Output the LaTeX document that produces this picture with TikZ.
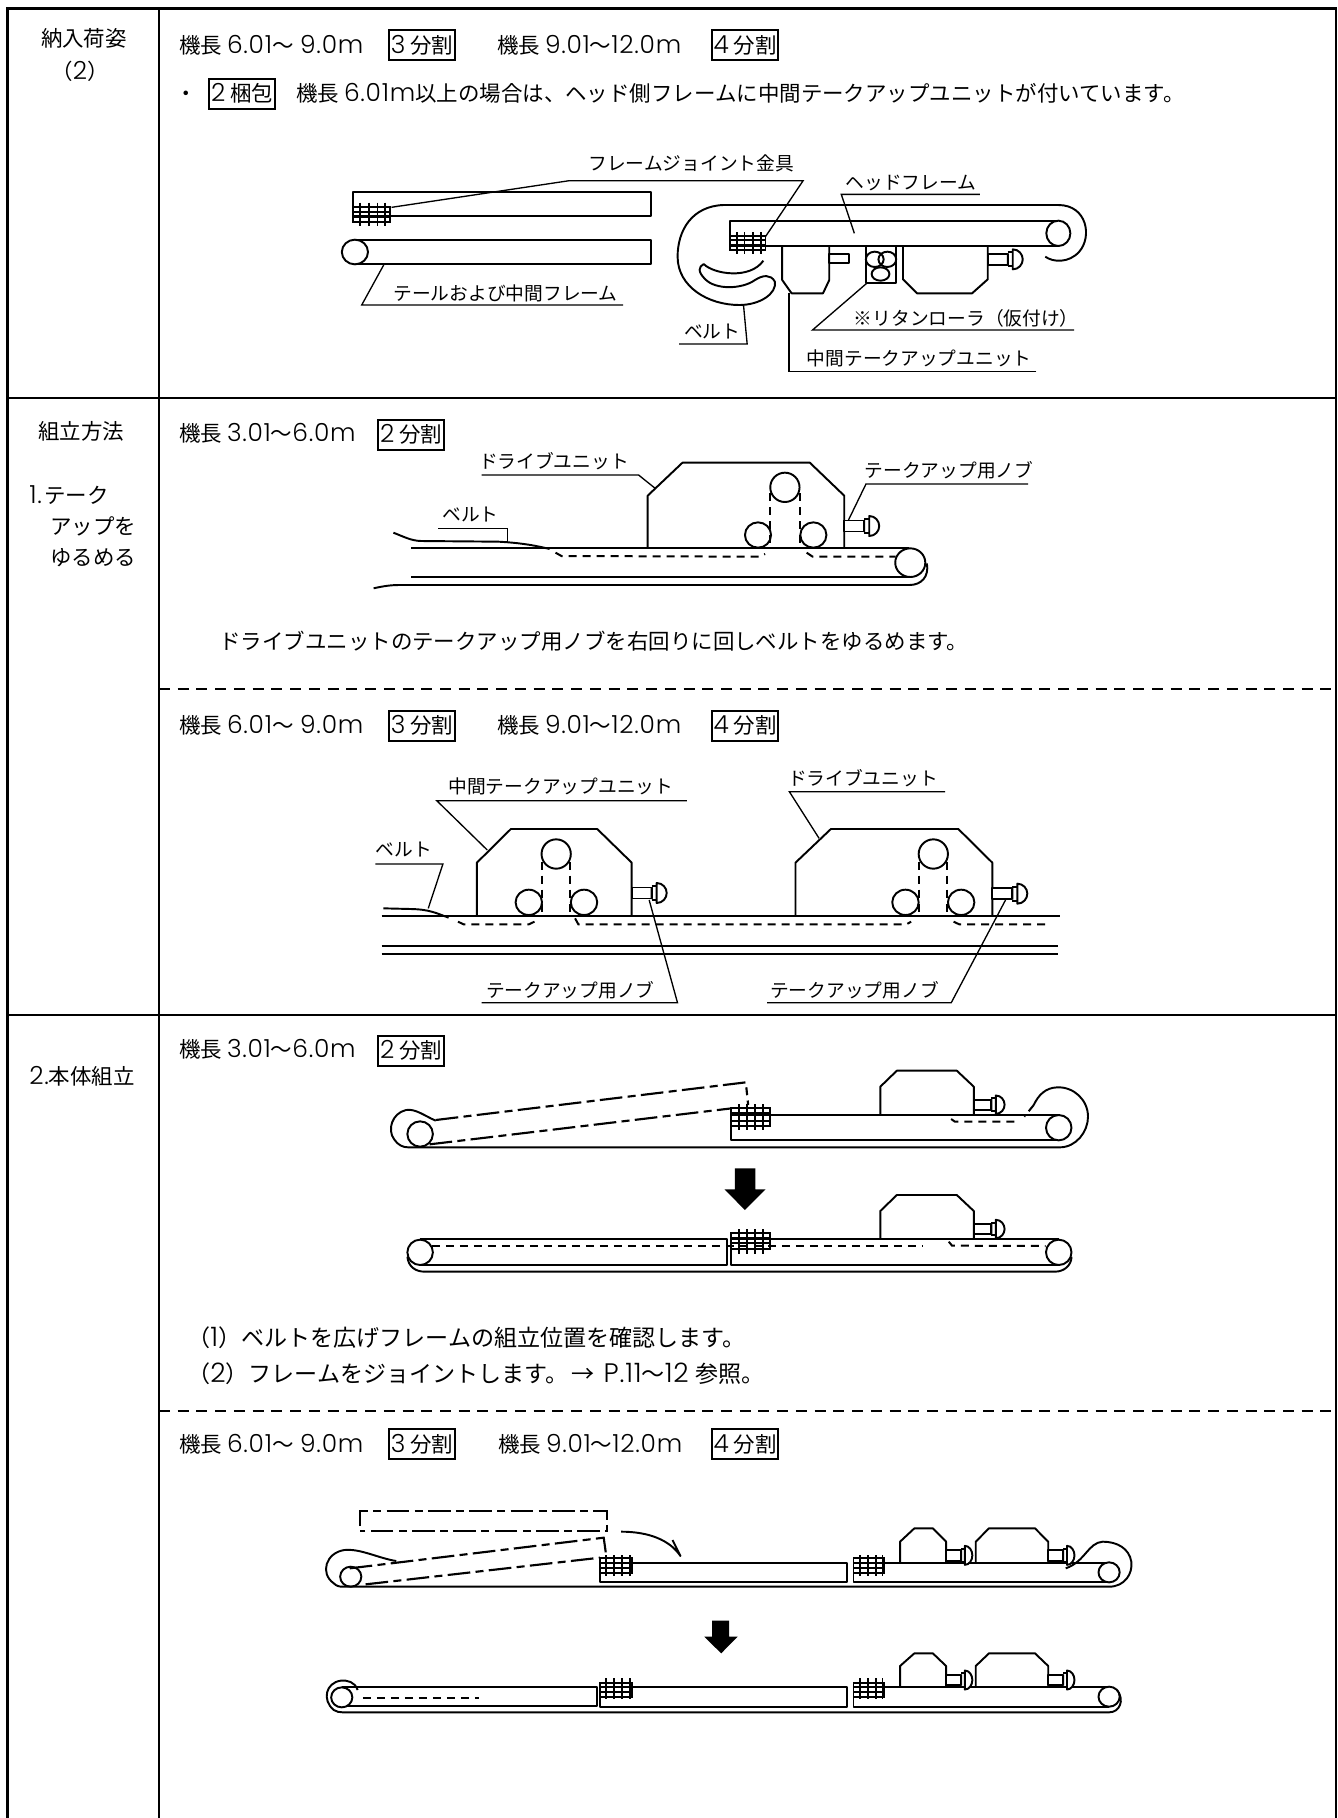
\documentclass[tikz,border=0pt]{standalone}
\usepackage{fontspec}
\setmainfont{Noto Sans CJK JP}
\newfontfamily\ltnf[UprightFont=* Light,Scale=1.16,LetterSpace=3]{Poppins}
\newcommand{\ltn}[1]{{\ltnf #1}}
\newcommand{\bodyfs}{\fontsize{16.1pt}{18pt}\selectfont}
\newcommand{\notefs}{\fontsize{17.3pt}{19pt}\selectfont}
\newcommand{\labfs}{\fontsize{14.05pt}{16pt}\selectfont}
\tikzset{
  frameline/.style={line width=2.1pt},
  dashrow/.style={line width=1.7pt,dash pattern=on 8.25pt off 5.8pt},
  heavy/.style={line width=1.45pt,line join=round},
  lead/.style={line width=1pt},
  hiddenbelt/.style={line width=1.5pt,dash pattern=on 6pt off 4.5pt},
  chain/.style={line width=1.6pt,dash pattern=on 17pt off 4pt on 6pt off 4pt},
  bodytxt/.style={font=\bodyfs,anchor=west,inner sep=0pt},
  notetxt/.style={font=\notefs,anchor=west,inner sep=0pt},
  midtxt/.style={font=\bodyfs,anchor=center,inner sep=0pt},
  labtxt/.style={font=\labfs,anchor=center,inner sep=0pt},
  tagbox/.style={font=\bodyfs,draw,line width=1.5pt,inner sep=0pt,minimum width=49.5pt,minimum height=22.5pt,anchor=west},
  zoomed/.style n args={3}{shift={(#1,#2)},x=#3,y=-0.25pt}
}
\newcommand{\knobat}[4]{%
  \begin{scope}[shift={(#1,#2)},x=0.75pt,y=-0.75pt,xscale=#3,yscale=#4]
    \draw[heavy,fill=white] (0,-5.5) rectangle (20,5.5);
    \draw[heavy,fill=white] (20,-6) -- (20,6) (25,-10) .. controls (31,-10) and (35,-5) .. (35,0) .. controls (35,5) and (31,10) .. (25,10) -- cycle;
    \draw[heavy] (20,-7) -- (25,-7) (20,7) -- (25,7);
  \end{scope}}
\newcommand{\jgrid}[8]{%
  \foreach \g in {#1} {\draw[line width=1.35pt] (\g,#2) -- (\g,#3);}
  \foreach \g in {#4} {\draw[line width=1.35pt] (#5,\g) -- (#6,\g);}
  \draw[line width=1.35pt] (#5,#7) rectangle (#6,#8);}
\newcommand{\spec}[4]{% y, name prefix, x of second spec, x of 4 tag
  \node[bodytxt] (#2a) at (179,#1) {機長 \ltn{6.01}〜\hspace{5pt}\ltn{9.0m}};
  \node[tagbox] (#2b) at (388,#1) {\ltn{3} 分割};
  \node[bodytxt] (#2c) at (#3,#1) {機長 \ltn{9.01}〜\ltn{12.0m}};
  \node[tagbox] (#2d) at (#4,#1) {\ltn{4} 分割};}
\begin{document}
\begin{tikzpicture}[x=0.75pt,y=-0.75pt]
\useasboundingbox (0,0) rectangle (1338,1818);
% table
\draw[frameline] (7.5,1818) -- (7.5,8.5) -- (1336,8.5) -- (1336,1818);
\draw[frameline] (159,8.5) -- (159,1818);
\draw[frameline] (7.5,398) -- (1336,398);
\draw[frameline] (7.5,1015) -- (1336,1015);
\draw[dashrow] (159,689) -- (1336,689);
\draw[dashrow] (159,1411) -- (1336,1411);
% left column
\node[midtxt] (c1) at (84,38) {納入荷姿};
\node[midtxt] (c2) at (80,71) {（\ltn{2}）};
\node[midtxt] (c3) at (81,431) {組立方法};
\node[bodytxt] (c4) at (29,495) {\ltn{1.}\hspace{2pt}テーク};
\node[bodytxt] (c5) at (50,526.5) {アップを};
\node[bodytxt] (c6) at (50,557.5) {ゆるめる};
\node[bodytxt] (c7) at (29,1076) {\ltn{2.}本体組立};
% body text
\spec{45}{s1}{497}{711}
\node[bodytxt] (b0) at (175,96) {・};
\node[tagbox] (b1) at (208,93.5) {\ltn{2} 梱包};
\node[bodytxt] (b2) at (296,93.5) {機長 \ltn{6.01m}以上の場合は、ヘッド側フレームに中間テークアップユニットが付いています。};
\node[bodytxt] (t1) at (179,433.5) {機長 \ltn{3.01}〜\ltn{6.0m}};
\node[tagbox] (t2) at (377,434.5) {\ltn{2} 分割};
\node[bodytxt] (t3) at (219,641.5) {ドライブユニットのテークアップ用ノブを右回りに回しベルトをゆるめます。};
\spec{725.5}{s2}{497}{711}
\node[bodytxt] (t4) at (179,1049.5) {機長 \ltn{3.01}〜\ltn{6.0m}};
\node[tagbox] (t5) at (377,1050.5) {\ltn{2} 分割};
\node[notetxt] (t6) at (187,1338) {（\ltn{1}）ベルトを広げフレームの組立位置を確認します。};
\node[notetxt] (t7) at (187,1374) {（\ltn{2}）フレームをジョイントします。\hspace{2pt}→\hspace{7pt}\ltn{P.11}〜\ltn{12}\hspace{5pt}参照。};
\spec{1444}{s3}{498}{711}

% ---------- diagram 1
\begin{scope}[zoomed={300}{130}{0.39225pt}]
  \draw[heavy] (102,187) rectangle (672,258);
  \jgrid{115,132,148,163}{218}{288}{245,260}{102}{172}{232}{275}
  \draw[heavy] (105,330) -- (672,330) -- (672,402) -- (105,402);
  \draw[heavy,fill=white] (105,366) ellipse [x radius=25,y radius=37];
  % belt
  \draw[heavy] (1425,380) .. controls (1440,397) and (1470,400) .. (1490,365) .. controls (1515,320) and (1505,225) .. (1450,225) -- (810,225) .. controls (750,228) and (722,300) .. (722,380) .. controls (722,470) and (780,525) .. (840,525) .. controls (880,525) and (912,490) .. (908,455) .. controls (900,432) and (885,435) .. (870,450) .. controls (845,478) and (795,480) .. (775,448) .. controls (760,425) and (762,410) .. (772,402) .. controls (790,432) and (860,450) .. (886,392);
  % head frame
  \draw[heavy,fill=white] (1450,272) -- (822,272) -- (822,347) -- (1450,347);
  \draw[heavy,fill=white] (1450,310) ellipse [x radius=23,y radius=38];
  \jgrid{835,850,866,882}{306}{373}{331,346}{822}{890}{318}{360}
  % units
  \draw[heavy] (922,347) -- (922,450) -- (940,490) -- (1000,490) -- (1012,450) -- (1012,347);
  \draw[heavy] (1012,372) rectangle (1050,400);
  \draw[heavy] (1082,347) rectangle (1140,458);
  \draw[heavy] (1099,388) ellipse [x radius=17,y radius=23];
  \draw[heavy] (1123,388) ellipse [x radius=17,y radius=23];
  \draw[heavy] (1110,432) ellipse [x radius=17,y radius=20];
  \draw[heavy] (1153,347) -- (1153,448) -- (1180,490) -- (1285,490) -- (1315,448) -- (1315,347);
  \knobat{1315}{388}{1}{1}
  % labels
  \node[labtxt] (d1a) at (748,100) {フレームジョイント金具};
  \draw[lead] (175,232) -- (515,152) -- (962,152) -- (890,320);
  \node[labtxt] (d1b) at (1168,160) {ヘッドフレーム};
  \draw[lead] (1300,193) -- (1035,193) -- (1060,310);
  \node[labtxt] (d1c) at (393,490) {テールおよび中間フレーム};
  \draw[lead] (618,525) -- (118,525) -- (160,405);
  \node[labtxt] (d1d) at (788,605) {ベルト};
  \draw[lead] (725,642) -- (855,642) -- (848,525);
  \node[labtxt] (d1e) at (1274,565) {※リタンローラ（仮付け）};
  \draw[lead] (1480,600) -- (980,600) -- (1085,458);
  \node[labtxt] (d1f) at (1184,685) {中間テークアップユニット};
  \draw[lead] (1408,725) -- (935,725) -- (935,490);
\end{scope}

% ---------- diagram 2
\begin{scope}[zoomed={340}{430}{0.2966pt}]
  \draw[heavy] (180,355) -- (1440,355);
  \draw[heavy] (180,441) -- (1440,441);
  \draw[heavy] (85,475) .. controls (110,468) and (130,465) .. (150,465) -- (1440,465) .. controls (1470,465) and (1490,440) .. (1484,400);
  \draw[heavy,fill=white] (1442,398) ellipse [x radius=38,y radius=43];
  \draw[heavy] (135,308) .. controls (165,322) and (180,332) .. (205,333) -- (400,335) .. controls (450,338) and (490,345) .. (530,357);
  \draw[hiddenbelt] (545,368) -- (560,378) -- (1060,380) -- (1075,372);
  \draw[hiddenbelt] (1180,368) -- (1195,380) -- (1405,380);
  \draw[heavy] (778,355) -- (778,197) -- (866,98) -- (1188,98) -- (1275,197) -- (1275,355);
  \draw[heavy] (1125,172) ellipse [x radius=37,y radius=44];
  \draw[heavy] (1057,315) ellipse [x radius=33,y radius=38];
  \draw[heavy] (1197,315) ellipse [x radius=33,y radius=38];
  \draw[hiddenbelt] (1088,190) -- (1088,350);
  \draw[hiddenbelt] (1162,190) -- (1162,350);
  \knobat{1275}{288}{1}{1}
  \node[labtxt] (d2a) at (541,92) {ドライブユニット};
  \draw[lead] (358,135) -- (755,135) -- (797,175);
  \node[labtxt] (d2b) at (330,255) {ベルト};
  \draw[lead] (248,295) -- (423,295) -- (423,335);
  \node[labtxt] (d2c) at (1540,120) {テークアップ用ノブ};
  \draw[lead] (1285,272) -- (1330,162) -- (1740,162);
\end{scope}

% ---------- diagram 3
\begin{scope}[zoomed={340}{750}{0.354pt}]
  \draw[heavy] (88,497) -- (1525,497);
  \draw[heavy] (88,587) -- (1522,587);
  \draw[heavy] (88,612) -- (1522,612);
  \draw[heavy] (92,475) -- (150,477) .. controls (190,478) and (205,490) .. (230,503);
  \draw[hiddenbelt] (250,515) -- (262,523) -- (400,523) -- (412,515);
  \draw[hiddenbelt] (498,505) -- (505,523) -- (1200,523) -- (1210,515);
  \draw[hiddenbelt] (1300,515) -- (1312,523) -- (1500,523);
  \draw[heavy] (290,497) -- (290,338) -- (362,237) -- (545,237) -- (618,338) -- (618,497);
  \draw[heavy] (965,497) -- (965,338) -- (1040,237) -- (1310,237) -- (1382,338) -- (1382,497);
  \foreach \dx in {0,799} {
    \draw[heavy] (458+\dx,312) ellipse [x radius=31,y radius=44];
    \draw[hiddenbelt] (427+\dx,335) -- (427+\dx,495);
    \draw[hiddenbelt] (488+\dx,335) -- (488+\dx,495);
  }
  \draw[heavy] (400,457) ellipse [x radius=28,y radius=38];
  \draw[heavy] (517,457) ellipse [x radius=28,y radius=38];
  \draw[heavy] (1198,457) ellipse [x radius=28,y radius=38];
  \draw[heavy] (1316,457) ellipse [x radius=28,y radius=38];
  \knobat{618}{429}{1}{1}
  \knobat{1382}{431}{1}{1}
  \node[labtxt] (d3a) at (468,110) {中間テークアップユニット};
  \draw[lead] (735,152) -- (205,152) -- (312,300);
  \node[labtxt] (d3b) at (135,300) {ベルト};
  \draw[lead] (75,342) -- (218,342) -- (187,475);
  \node[labtxt] (d3c) at (1108,85) {ドライブユニット};
  \draw[lead] (1282,125) -- (952,125) -- (1015,265);
  \node[labtxt] (d3d) at (488,720) {テークアップ用ノブ};
  \draw[lead] (300,758) -- (715,758) -- (655,450);
  \node[labtxt] (d3e) at (1090,720) {テークアップ用ノブ};
  \draw[lead] (905,758) -- (1295,758) -- (1410,450);
\end{scope}

% ---------- diagram 4
\begin{scope}[zoomed={380}{1050}{0.354pt}]
  % upper
  \draw[heavy] (118,212) .. controls (95,198) and (75,175) .. (55,180) .. controls (25,190) and (15,240) .. (30,268) .. controls (38,285) and (48,292) .. (60,292) -- (1440,292) .. controls (1475,292) and (1500,245) .. (1500,200) .. controls (1500,150) and (1470,110) .. (1435,112) .. controls (1410,113) and (1395,135) .. (1385,165);
  \draw[hiddenbelt] (1385,165) -- (1365,200);
  \draw[heavy] (1438,195) -- (743,195) -- (743,270) -- (1438,270);
  \draw[heavy,fill=white] (1438,233) ellipse [x radius=27,y radius=38];
  \draw[heavy] (85,252) ellipse [x radius=27,y radius=38];
  \draw[chain] (118,210) -- (775,97) -- (780,165);
  \draw[chain] (105,283) -- (745,175);
  \jgrid{760,778,795,812}{162}{240}{190,212}{743}{827}{175}{228}
  \draw[hiddenbelt] (1210,207) -- (1218,215) -- (1350,215);
  \draw[heavy] (1060,195) -- (1060,110) -- (1095,62) -- (1222,62) -- (1258,110) -- (1258,195);
  \knobat{1258}{164}{0.88}{0.92}
  % arrow
  \fill (752,355) -- (795,355) -- (795,418) -- (817,418) -- (773,480) -- (730,418) -- (752,418) -- cycle;
  % lower
  \draw[heavy] (58,620) .. controls (60,650) and (75,665) .. (95,665) -- (1430,665) .. controls (1450,665) and (1465,645) .. (1465,620);
  \draw[heavy] (85,568) -- (735,568) -- (735,645) -- (85,645);
  \draw[heavy] (1438,568) -- (743,568) -- (743,645) -- (1438,645);
  \draw[heavy,fill=white] (85,607) ellipse [x radius=27,y radius=38];
  \draw[heavy,fill=white] (1438,607) ellipse [x radius=27,y radius=38];
  \draw[hiddenbelt] (110,588) -- (1150,588);
  \draw[hiddenbelt] (1205,575) -- (1212,587) -- (1410,588);
  \jgrid{760,778,795,812}{537}{612}{565,580}{743}{827}{550}{597}
  \draw[heavy] (1060,568) -- (1060,483) -- (1095,435) -- (1222,435) -- (1258,483) -- (1258,568);
  \knobat{1258}{537}{0.88}{0.92}
\end{scope}

% ---------- diagram 5
\begin{scope}[zoomed={310}{1490}{0.3969pt}]
  % upper
  \draw[chain] (95,108) -- (95,63) -- (562,63) -- (562,122) -- (95,122);
  \draw[heavy] (163,213) .. controls (130,205) and (95,175) .. (65,180) .. controls (30,188) and (18,250) .. (45,280) .. controls (50,288) and (55,290) .. (62,290) -- (1510,290) .. controls (1540,290) and (1555,250) .. (1552,215) .. controls (1548,175) and (1525,155) .. (1498,155) .. controls (1470,158) and (1465,215) .. (1428,235);
  \draw[heavy] (1510,218) -- (1027,218) -- (1027,275) -- (1510,275);
  \draw[heavy] (1015,218) -- (548,218) -- (548,275) -- (1015,275) -- cycle;
  \draw[heavy,fill=white] (1510,247) ellipse [x radius=20,y radius=30];
  \draw[heavy] (77,260) ellipse [x radius=20,y radius=30];
  \draw[chain] (75,235) -- (555,143) -- (560,200);
  \draw[chain] (105,283) -- (548,203);
  \draw[heavy] (588,125) .. controls (640,125) and (680,150) .. (700,198) -- (685,150);
  \jgrid{560,575,590,604}{195}{258}{218,235}{548}{608}{205}{248}
  \jgrid{1040,1055,1070,1082}{195}{258}{218,235}{1027}{1085}{205}{248}
  \draw[heavy] (1115,218) -- (1115,155) -- (1142,115) -- (1177,115) -- (1202,155) -- (1202,218);
  \draw[heavy] (1258,218) -- (1258,155) -- (1283,115) -- (1370,115) -- (1395,155) -- (1395,218);
  \knobat{1202}{196}{0.75}{0.95}
  \knobat{1395}{196}{0.75}{0.95}
  % arrow
  \fill (760,392) -- (792,392) -- (792,440) -- (808,440) -- (777,490) -- (745,440) -- (760,440) -- cycle;
  % lower
  \draw[heavy] (90,600) .. controls (85,575) and (70,570) .. (58,572) .. controls (30,578) and (22,630) .. (45,660) .. controls (50,665) and (55,667) .. (62,667) -- (1510,667) .. controls (1530,667) and (1540,630) .. (1525,600);
  \draw[heavy] (60,590) -- (543,590) -- (543,648) -- (60,648);
  \draw[heavy] (1015,590) -- (548,590) -- (548,650) -- (1015,650) -- cycle;
  \draw[heavy] (1510,590) -- (1027,590) -- (1027,650) -- (1510,650);
  \draw[heavy,fill=white] (60,622) ellipse [x radius=20,y radius=30];
  \draw[heavy,fill=white] (1510,620) ellipse [x radius=20,y radius=30];
  \draw[hiddenbelt] (100,623) -- (320,623);
  \jgrid{560,575,590,604}{565}{628}{590,605}{548}{608}{578}{622}
  \jgrid{1040,1055,1070,1082}{565}{628}{590,605}{1027}{1085}{578}{622}
  \draw[heavy] (1115,590) -- (1115,528) -- (1142,490) -- (1177,490) -- (1202,528) -- (1202,590);
  \draw[heavy] (1258,590) -- (1258,528) -- (1283,490) -- (1370,490) -- (1395,528) -- (1395,590);
  \knobat{1202}{570}{0.75}{0.95}
  \knobat{1395}{570}{0.75}{0.95}
\end{scope}
\end{tikzpicture}
\end{document}
